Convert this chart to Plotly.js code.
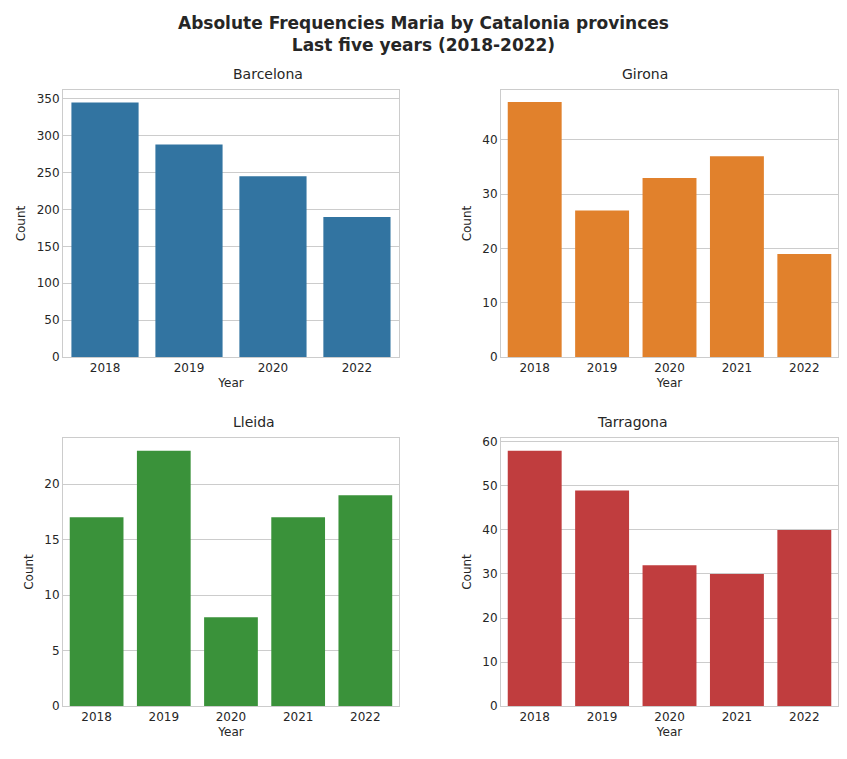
<!DOCTYPE html>
<html>
<head>
<meta charset="utf-8">
<script src="https://cdn.plot.ly/plotly-3.0.1.min.js"></script>
<style>body{margin:0;background:#fff}</style>
</head>
<body>
<div id="chart" style="width:847px;height:759px"></div>
<script>
// values
const bcnYears = ['2018', '2019', '2020', '2022']
const bcnCounts = [345, 288, 245, 190]
const gironaYears = ['2018', '2019', '2020', '2021', '2022']
const gironaCounts = [47, 27, 33, 37, 19]
const lleidaYears = ['2018', '2019', '2020', '2021', '2022']
const lleidaCounts = [17, 23, 8, 17, 19]
const tarragonaYears = ['2018', '2019', '2020', '2021', '2022']
const tarragonaCounts = [58, 49, 32, 30, 40]

const panels = [
  {name: 'Barcelona', x: bcnYears, y: bcnCounts, color: '#3274a1', range: [0, 362], dtick: 50},
  {name: 'Girona', x: gironaYears, y: gironaCounts, color: '#e1812c', range: [0, 49.2], dtick: 10},
  {name: 'Lleida', x: lleidaYears, y: lleidaCounts, color: '#3a923a', range: [0, 24.15], dtick: 5},
  {name: 'Tarragona', x: tarragonaYears, y: tarragonaCounts, color: '#c03d3e', range: [0, 60.9], dtick: 10}
]

const xDomains = [[0.0744, 0.471], [0.5915, 0.9894]]
const yDomains = [[0.5296, 0.8814], [0.0698, 0.4229]]

let data = []
let layout = {
  width: 847, height: 759,
  margin: {l: 0, r: 0, t: 0, b: 0},
  paper_bgcolor: '#fff', plot_bgcolor: '#fff',
  showlegend: false,
  bargap: 0.2,
  font: {family: 'DejaVu Sans, Arial', size: 12, color: '#262626'},
  annotations: [{
    text: '<b>Absolute Frequencies Maria by Catalonia provinces<br>Last five years (2018-2022)</b>',
    xref: 'paper', yref: 'paper', x: 0.5, y: 0.985, yanchor: 'top',
    showarrow: false, font: {size: 17, color: '#262626'}
  }]
}

panels.forEach((p, i) => {
  let n = i + 1
  let xa = 'xaxis' + (n === 1 ? '' : n)
  let ya = 'yaxis' + (n === 1 ? '' : n)
  data.push({
    type: 'bar', x: p.x, y: p.y,
    xaxis: 'x' + (n === 1 ? '' : n), yaxis: 'y' + (n === 1 ? '' : n),
    marker: {color: p.color}
  })
  let xd = xDomains[i % 2]
  let yd = yDomains[Math.floor(i / 2)]
  layout[xa] = {
    domain: xd, type: 'category', anchor: 'y' + (n === 1 ? '' : n),
    showline: true, mirror: true, linecolor: '#cccccc', showgrid: false,
    ticks: '', tickfont: {size: 12},
    title: {text: 'Year', font: {size: 12}, standoff: 4}
  }
  layout[ya] = {
    domain: yd, range: p.range, dtick: p.dtick, anchor: 'x' + (n === 1 ? '' : n),
    showline: true, mirror: true, linecolor: '#cccccc',
    gridcolor: '#cccccc', zeroline: false, ticks: '',
    title: {text: 'Count', font: {size: 12}, standoff: 8}
  }
  layout.annotations.push({
    text: p.name, xref: 'paper', yref: 'paper',
    x: (xd[0] + xd[1]) / 2, y: yd[1] + 0.008, yanchor: 'bottom',
    showarrow: false, font: {size: 14, color: '#262626'}
  })
})

Plotly.newPlot('chart', data, layout, {displayModeBar: false})
</script>
</body>
</html>
